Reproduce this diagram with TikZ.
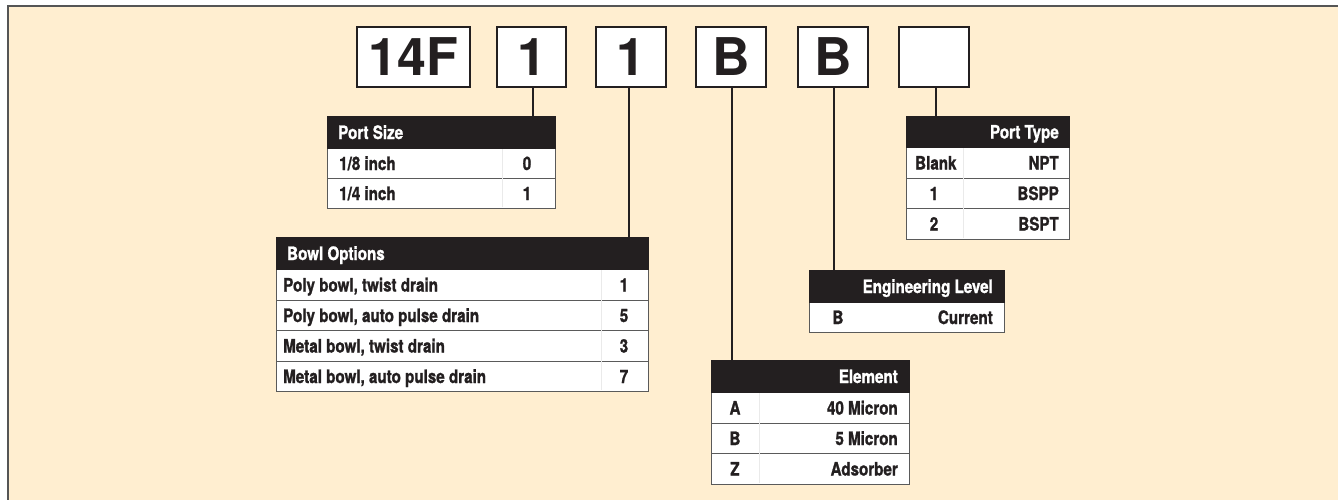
\documentclass[tikz,border=0pt]{standalone}
\usepackage{fontspec}
\setmainfont{TeX Gyre Heros}
\newfontfamily\condf[FakeStretch=0.82,FakeBold=1.2]{TeX Gyre Heros}
\definecolor{cream}{HTML}{FFEED0}
\definecolor{hdrc}{HTML}{231F20}
\definecolor{framec}{HTML}{555555}
\definecolor{rowline}{HTML}{5A5A5A}
\definecolor{colsep}{HTML}{EAEAEA}
\tikzset{
  bigbox/.style={draw=hdrc, fill=white, line width=2pt, inner sep=0pt, minimum height=60pt,
    font=\fontsize{52}{52}\selectfont\bfseries, text=hdrc},
  hdrcell/.style={fill=hdrc, draw=hdrc, line width=1pt, inner sep=0pt, anchor=north west, minimum height=32pt},
  rowcell/.style={fill=white, draw=rowline, line width=1.2pt, inner sep=0pt, anchor=north west},
  htxt/.style={font=\condf\fontsize{18.5}{18.5}\selectfont\bfseries, text=white, inner sep=0pt},
  rtxt/.style={font=\condf\fontsize{18.5}{18.5}\selectfont\bfseries, text=hdrc, inner sep=0pt},
  conn/.style={draw=hdrc, line width=2pt},
  csep/.style={draw=colsep, line width=0.8pt}
}
\begin{document}
\begin{tikzpicture}[x=1pt, y=-1pt]
\useasboundingbox (0,0) rectangle (1338,499);
\fill[white] (0,0) rectangle (1338,499);
\fill[cream] (7.5,5.5) rectangle (1345,505);
\draw[framec, line width=2pt] (7.5,505) -- (7.5,5.5) -- (1345,5.5);

% code boxes
\node[bigbox, minimum width=113pt] (b14f) at (413.5,57) {14F};
\node[bigbox, minimum width=69pt] (b1a) at (531.5,57) {1};
\node[bigbox, minimum width=70pt] (b1b) at (631,57) {1};
\node[bigbox, minimum width=70pt] (bB1) at (731,57) {B};
\node[bigbox, minimum width=70pt] (bB2) at (833,57) {B};
\node[bigbox, minimum width=70pt] (bBl) at (934,57) {};

% Port Size table
\node[rowcell, minimum width=228pt, minimum height=30pt] (ps1) at (327,148) {};
\node[rowcell, minimum width=228pt, minimum height=30pt] (ps2) at (327,178) {};
\node[hdrcell, minimum width=228pt] (psh) at (327,116) {};
\draw[csep] (502,149) -- (502,207);
\node[htxt, anchor=base west] (psht) at (338,139) {Port Size};
\node[rtxt, anchor=base west] (ps1t) at (339,170) {1/8 inch};
\node[rtxt, anchor=base] (ps1v) at (527,170) {0};
\node[rtxt, anchor=base west] (ps2t) at (339,200) {1/4 inch};
\node[rtxt, anchor=base] (ps2v) at (527,200) {1};

% Bowl Options table
\node[rowcell, minimum width=372pt, minimum height=31pt] (bo1) at (276,269) {};
\node[rowcell, minimum width=372pt, minimum height=30pt] (bo2) at (276,300) {};
\node[rowcell, minimum width=372pt, minimum height=31pt] (bo3) at (276,330) {};
\node[rowcell, minimum width=372pt, minimum height=30pt] (bo4) at (276,361) {};
\node[hdrcell, minimum width=372pt] (boh) at (276,237) {};
\draw[csep] (601,270) -- (601,390);
\node[htxt, anchor=base west] (boht) at (287,260) {Bowl Options};
\node[rtxt, anchor=base west] (bo1t) at (283,291.5) {Poly bowl, twist drain};
\node[rtxt, anchor=base] (bo1v) at (624,291.5) {1};
\node[rtxt, anchor=base west] (bo2t) at (283,322) {Poly bowl, auto pulse drain};
\node[rtxt, anchor=base] (bo2v) at (624,322) {5};
\node[rtxt, anchor=base west] (bo3t) at (283,352.5) {Metal bowl, twist drain};
\node[rtxt, anchor=base] (bo3v) at (624,352.5) {3};
\node[rtxt, anchor=base west] (bo4t) at (283,383) {Metal bowl, auto pulse drain};
\node[rtxt, anchor=base] (bo4v) at (624,383) {7};

% Element table
\node[rowcell, minimum width=198pt, minimum height=31pt] (el1) at (711,392) {};
\node[rowcell, minimum width=198pt, minimum height=30pt] (el2) at (711,423) {};
\node[rowcell, minimum width=198pt, minimum height=31pt] (el3) at (711,453) {};
\node[hdrcell, minimum width=198pt] (elh) at (711,360) {};
\draw[csep] (759,393) -- (759,483);
\node[htxt, anchor=base east] (elht) at (898,383) {Element};
\node[rtxt, anchor=base] (el1k) at (735,414.5) {A};
\node[rtxt, anchor=base east] (el1v) at (898,414.5) {40 Micron};
\node[rtxt, anchor=base] (el2k) at (735,445) {B};
\node[rtxt, anchor=base east] (el2v) at (898,445) {5 Micron};
\node[rtxt, anchor=base] (el3k) at (735,475.5) {Z};
\node[rtxt, anchor=base east] (el3v) at (898,475.5) {Adsorber};

% Engineering Level table
\node[rowcell, minimum width=195pt, minimum height=30pt] (en1) at (809,302) {};
\node[hdrcell, minimum width=195pt] (enh) at (809,270) {};
\node[htxt, anchor=base east] (enht) at (993,293) {Engineering Level};
\node[rtxt, anchor=base] (en1k) at (838,324) {B};
\node[rtxt, anchor=base east] (en1v) at (993,324) {Current};

% Port Type table
\node[rowcell, minimum width=163pt, minimum height=31pt] (pt1) at (906,147) {};
\node[rowcell, minimum width=163pt, minimum height=30pt] (pt2) at (906,178) {};
\node[rowcell, minimum width=163pt, minimum height=31pt] (pt3) at (906,208) {};
\node[hdrcell, minimum width=163pt, minimum height=31pt] (pth) at (906,116) {};
\draw[csep] (963,148) -- (963,238);
\node[htxt, anchor=base east] (ptht) at (1059,138.5) {Port Type};
\node[rtxt, anchor=base west] (pt1k) at (915,169.5) {Blank};
\node[rtxt, anchor=base east] (pt1v) at (1059,169.5) {NPT};
\node[rtxt, anchor=base] (pt2k) at (934,200) {1};
\node[rtxt, anchor=base east] (pt2v) at (1059,200) {BSPP};
\node[rtxt, anchor=base] (pt3k) at (934,230.5) {2};
\node[rtxt, anchor=base east] (pt3v) at (1059,230.5) {BSPT};

% connectors
\draw[conn] ([xshift=1.5pt]b1a.south) -- ([xshift=1.5pt]b1a.south |- psh.north);
\draw[conn] ([xshift=-2pt]b1b.south) -- ([xshift=-2pt]b1b.south |- boh.north);
\draw[conn] ([xshift=1pt]bB1.south) -- ([xshift=1pt]bB1.south |- elh.north);
\draw[conn] ([xshift=1pt]bB2.south) -- ([xshift=1pt]bB2.south |- enh.north);
\draw[conn] ([xshift=2pt]bBl.south) -- ([xshift=2pt]bBl.south |- pth.north);
\end{tikzpicture}
\end{document}
